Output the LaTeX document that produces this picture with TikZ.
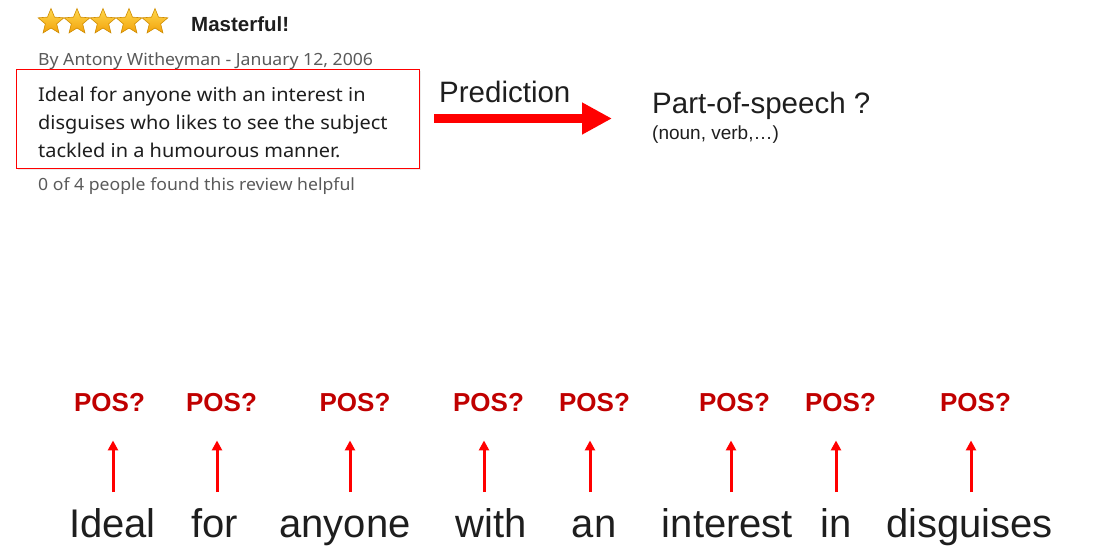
\documentclass[tikz,border=0pt]{standalone}
\usepackage{fontspec}
\setmainfont{Liberation Sans}
\newfontfamily\reviewfont[FakeStretch=1.05]{Noto Sans}
\usepackage{xcolor}
\usetikzlibrary{positioning, arrows.meta, shapes.geometric, shadows}

\definecolor{posred}{HTML}{C00000}
\definecolor{arrowred}{HTML}{FF0000}
\definecolor{metagray}{HTML}{5A5A5A}
\definecolor{inkblack}{HTML}{1E1E1E}
\definecolor{startop}{HTML}{FFD84D}
\definecolor{starbottom}{HTML}{F2A20C}
\definecolor{staredge}{HTML}{CF8C00}

\tikzset{
  ratingstar/.style={star, star points=5, star point ratio=2.25, minimum size=27pt,
    inner sep=0pt, draw=staredge, line width=0.6pt, shading=axis,
    top color=startop, bottom color=starbottom},
  meta/.style={font=\reviewfont\fontsize{16.8}{20}\selectfont, text=metagray, inner sep=0pt, anchor=base west},
  reviewbox/.style={draw=arrowred, line width=1pt, fill=white, minimum width=403pt, minimum height=99pt,
    drop shadow={opacity=0.15, shadow xshift=1pt, shadow yshift=-1.5pt}},
  reviewtext/.style={font=\reviewfont\fontsize{19}{28}\selectfont, text=inkblack, align=left, inner sep=0pt},
  label/.style={font=\fontsize{29.5}{34}\selectfont, text=inkblack, inner sep=0pt, anchor=base west},
  word/.style={font=\fontsize{40}{48}\selectfont, text=inkblack, inner sep=0pt, anchor=base},
  postag/.style={font=\bfseries\fontsize{26}{30}\selectfont, text=posred, inner sep=0pt, anchor=base},
  bigarrow/.style={draw=arrowred, line width=9pt, -{Triangle[length=30pt, width=30pt]}},
  tick/.style={draw=arrowred, line width=3pt, -{Triangle[length=10pt, width=10pt]}}
}

\begin{document}
\begin{tikzpicture}[x=1pt, y=-1pt]
   \useasboundingbox (0,0) rectangle (1102,554);

   % review header
   \node[ratingstar] (s1) at (51,22) {};
   \node[ratingstar] (s2) at (77,22) {};
   \node[ratingstar] (s3) at (103,22) {};
   \node[ratingstar] (s4) at (129,22) {};
   \node[ratingstar] (s5) at (155,22) {};
   \node[meta, text=inkblack, font=\bfseries\fontsize{20.5}{24}\selectfont] (title) at (191,31) {Masterful!};
   \node[meta] (author) at (38,65) {By Antony Witheyman - January 12, 2006};

   % review body
   \node[reviewbox] (box) at (218,118.5) {};
   \node[reviewtext, anchor=north west] (review) at (38,86.5)
      {Ideal for anyone with an interest in\\disguises who likes to see the subject\\tackled in a humourous manner.};
   \node[meta] (helpful) at (38,190) {0 of 4 people found this review helpful};

   % prediction
   \node[label] (predict) at (439,102) {Prediction};
   \node[label] (speech) at (652,113) {Part-of-speech ?};
   \node[label, font=\fontsize{19}{22}\selectfont] (classes) at (652,139) {(noun, verb,\dots)};
   \draw[bigarrow, shorten <=14pt, shorten >=40pt] (box.east) -- (box.east -| speech.west);

   % words of the sentence
   \node[word] (w1) at (112.5,537) {Ideal};
   \node[word] (w2) at (214.5,537) {for};
   \node[word] (w3) at (345,537) {anyone};
   \node[word] (w4) at (491,537) {with};
   \node[word] (w5) at (594,537) {an};
   \node[word] (w6) at (727.5,537) {interest};
   \node[word] (w7) at (836,537) {in};
   \node[word] (w8) at (969.5,537) {disguises};

   % one tag per word
   \node[postag] (p1) at (109.5,411) {POS?};
   \node[postag] (p2) at (221.5,411) {POS?};
   \node[postag] (p3) at (355,411) {POS?};
   \node[postag] (p4) at (488.5,411) {POS?};
   \node[postag] (p5) at (594.5,411) {POS?};
   \node[postag] (p6) at (734.5,411) {POS?};
   \node[postag] (p7) at (840.5,411) {POS?};
   \node[postag] (p8) at (975.5,411) {POS?};

   % feet of the small arrows
   \coordinate (f1) at (113,492);
   \coordinate (f2) at (217,492);
   \coordinate (f3) at (350,492);
   \coordinate (f4) at (484,492);
   \coordinate (f5) at (590,492);
   \coordinate (f6) at (731,492);
   \coordinate (f7) at (836,492);
   \coordinate (f8) at (971,492);

   \path[every edge/.style={tick, shorten >=29pt}]
    (f1) edge (f1 |- p1.south)
    (f2) edge (f2 |- p2.south)
    (f3) edge (f3 |- p3.south)
    (f4) edge (f4 |- p4.south)
    (f5) edge (f5 |- p5.south)
    (f6) edge (f6 |- p6.south)
    (f7) edge (f7 |- p7.south)
    (f8) edge (f8 |- p8.south)
    ;
\end{tikzpicture}
\end{document}
